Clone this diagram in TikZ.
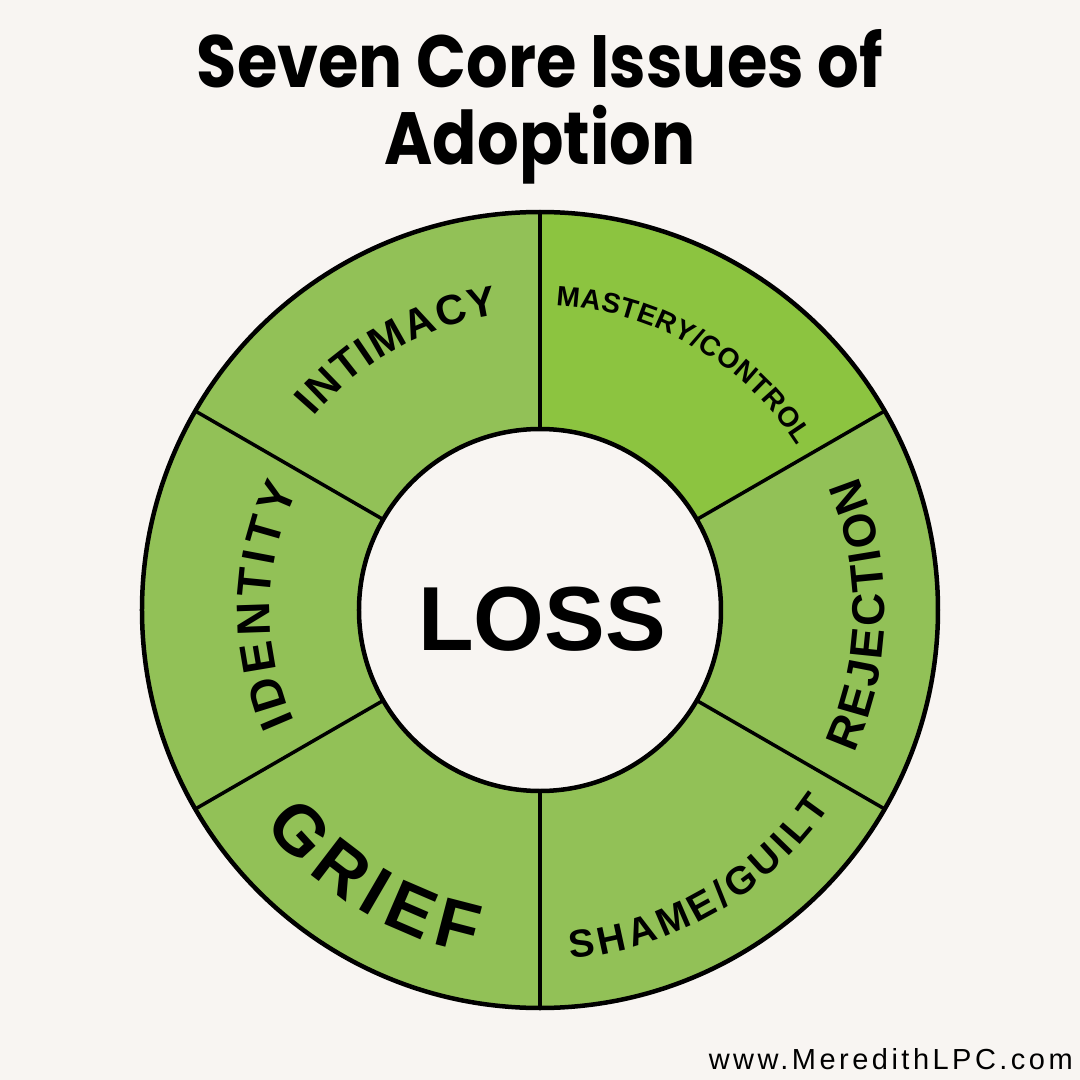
\documentclass[tikz,border=0pt]{standalone}
\usepackage{fontspec}
\setmainfont{Liberation Sans}
\newfontfamily\titlefam{Poppins}
\newfontfamily\lblfam{Liberation Sans}
\newfontfamily\urlfam{Liberation Sans}[LetterSpace=12]
\usepackage{tikz}
\usetikzlibrary{decorations.text}
\definecolor{adbg}{RGB}{248,245,242}
\definecolor{adring}{RGB}{146,193,87}
\definecolor{adhi}{RGB}{140,196,64}
\definecolor{adedge}{RGB}{0,0,0}
\tikzset{
  sector/.style={fill=adring},
  hisector/.style={fill=adhi},
  rim/.style={draw=adedge, line width=4.5pt},
  spoke/.style={draw=adedge, line width=3.5pt},
  issue/.style 2 args={
    decorate, decoration={text along path, text align={fit to path},
      text={|\lblfam\bfseries\fontsize{#1}{#1}\selectfont|#2}}
  },
  ttl/.style={font=\titlefam\bfseries\fontsize{74}{74}\selectfont, anchor=base, inner sep=0pt},
  every picture/.append style={line join=round}
}
\begin{document}
\begin{tikzpicture}[x=1pt, y=1pt]
  \fill[adbg] (-540,-470) rectangle (540,610);
  \useasboundingbox (-540,-470) rectangle (540,610);
  \coordinate (c) at (0,0);
  % ring of six issues
  \foreach \a/\st in {90/hisector, 150/sector, 210/sector, 270/sector, 330/sector, 30/sector} {
    \fill[\st] (\a-60:398) arc[start angle=\a-60, end angle=\a, radius=398]
      -- (\a:181) arc[start angle=\a, end angle=\a-60, radius=181] -- cycle;
  }
  \foreach \a in {30,90,...,330}
    \draw[spoke] (\a:181) -- (\a:398);
  \draw[rim] (c) circle[radius=398];
  \draw[rim, fill=adbg] (c) circle[radius=181];
  % labels on the ring
  \path[issue={42}{INTIMACY}] (139.5:298) arc[start angle=139.5, end angle=98, radius=298];
  \path[issue={28}{MASTERY/CONTROL}] (87:305) arc[start angle=87, end angle=32.5, radius=305];
  \path[issue={47}{IDENTITY}] (204.4:270) arc[start angle=204.4, end angle=153.6, radius=270];
  \path[issue={46}{REJECTION}] (-24.6:345) arc[start angle=-24.6, end angle=22.8, radius=345];
  \path[issue={39}{SHAME/GUILT}] (-85:350) arc[start angle=-85, end angle=-34, radius=350];
  \path[issue={70}{GRIEF}] (218:350) arc[start angle=218, end angle=259, radius=350];
  \node[font=\bfseries\fontsize{91}{91}\selectfont, anchor=base, inner sep=0pt] (loss) at (2,-40) {LOSS};
  % title and footer
  \node[ttl] (title1) at (0,522) {\scalebox{0.885}[1]{Seven Core Issues of}};
  \node[ttl] (title2) at (0,445) {\scalebox{0.885}[1]{Adoption}};
  \node[font=\urlfam\fontsize{29}{29}\selectfont, anchor=base east, inner sep=0pt] (url) at (533,-459) {www.MeredithLPC.com};
\end{tikzpicture}
\end{document}
